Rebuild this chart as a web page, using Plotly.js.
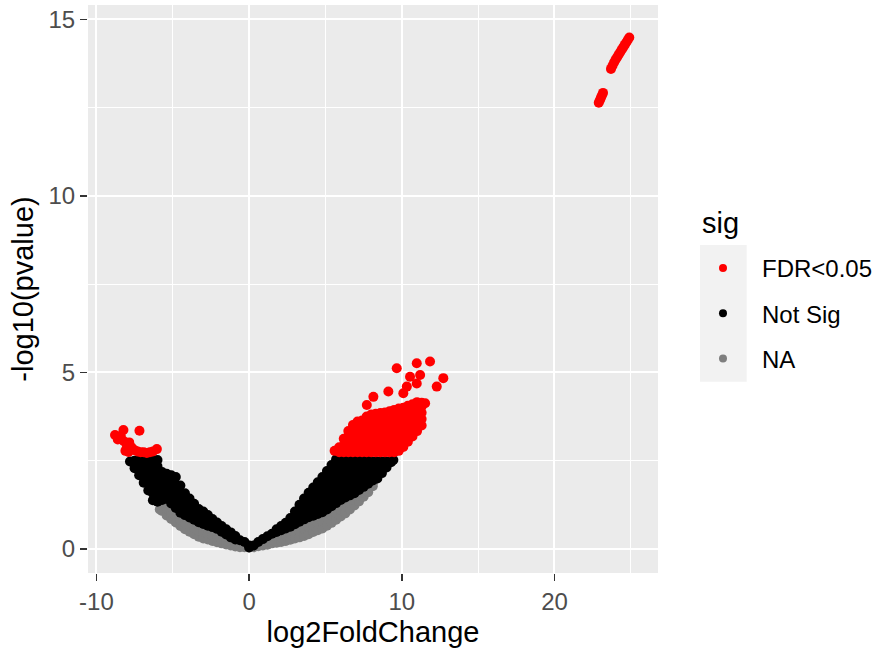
<!DOCTYPE html>
<html><head><meta charset="utf-8">
<script src="https://cdn.plot.ly/plotly-3.0.1.min.js"></script>
<style>body{margin:0;background:#fff}</style>
</head><body><div id="chart" style="width:878px;height:657px"></div>
<script>
// ---- data: [log2FoldChange, [-log10(pvalue) values]] ----
const naCols = [
 [-5.85,[1.12]],[-5.7,[1.08,1.25]],[-5.4,[0.95,1.15,1.3]],[-5.1,[0.85,1.03,1.2]],
 [-4.8,[0.75,0.92,1.08]],[-4.5,[0.65,0.81,0.96]],[-4.2,[0.56,0.72,0.89]],[-3.9,[0.49,0.65,0.82]],
 [-3.6,[0.42,0.59,0.76]],[-3.3,[0.35,0.52,0.69]],[-3.0,[0.3,0.47,0.64]],[-2.7,[0.27,0.43,0.59]],
 [-2.4,[0.23,0.39,0.55]],[-2.1,[0.19,0.34,0.5]],[-1.8,[0.16,0.29,0.42]],[-1.5,[0.13,0.24,0.34]],
 [-1.2,[0.1,0.18,0.26]],[-0.9,[0.07,0.2]],[-0.6,[0.05,0.17]],[-0.3,[0.05,0.13]],[0.0,[0.04]],
 [0.3,[0.05]],[0.6,[0.08]],[0.9,[0.1,0.18]],[1.2,[0.12,0.22]],[1.5,[0.16,0.3]],[1.8,[0.18,0.36]],
 [2.1,[0.2,0.33,0.46]],[2.4,[0.23,0.37,0.51]],[2.7,[0.26,0.41,0.56]],[3.0,[0.3,0.46,0.63]],
 [3.3,[0.33,0.52,0.7]],[3.6,[0.37,0.57,0.77]],[3.9,[0.42,0.62,0.83]],[4.2,[0.48,0.67,0.87]],
 [4.5,[0.53,0.72,0.92]],[4.8,[0.58,0.78,0.97]],[5.1,[0.66,0.86,1.05]],[5.4,[0.74,0.94,1.14]],
 [5.7,[0.83,1.03,1.23]],[6.0,[0.92,1.12,1.32]],[6.3,[1.01,1.2,1.39]],[6.6,[1.12,1.3,1.45]],
 [6.9,[1.23,1.38,1.51]],[7.2,[1.35,1.5,1.6]],[7.5,[1.48,1.6,1.69]],[7.8,[1.61,1.72,1.78]],
 [8.1,[1.78,1.86]]
];
const notSigCols = [
 [-7.8,[2.48]],[-7.5,[2.29,2.5]],[-7.2,[2.09,2.3,2.5]],[-6.9,[1.88,2.08,2.28,2.5]],
 [-6.6,[1.66,1.86,2.06,2.26,2.5]],[-6.3,[1.38,1.58,1.78,1.98,2.18,2.38,2.52]],
 [-6.0,[1.34,1.54,1.74,1.94,2.14,2.34,2.52]],[-5.7,[1.39,1.59,1.79,1.99,2.18]],
 [-5.4,[1.42,1.6,1.78,1.96,2.13]],[-5.1,[1.29,1.49,1.69,1.89,2.09]],
 [-4.8,[1.16,1.38,1.6,1.82,2.04]],[-4.5,[1.03,1.22,1.41,1.6,1.8]],
 [-4.2,[0.96,1.16,1.37,1.58]],[-3.9,[0.89,1.07,1.25,1.43]],[-3.6,[0.83,1.05,1.28]],
 [-3.3,[0.76,0.95,1.13]],[-3.0,[0.71,0.88,1.06]],[-2.7,[0.66,0.81,0.96]],
 [-2.4,[0.62,0.74,0.85]],[-2.1,[0.57,0.66,0.75]],[-1.8,[0.49,0.65]],[-1.5,[0.41,0.56]],
 [-1.2,[0.33,0.47]],[-0.9,[0.27,0.37]],[-0.6,[0.25]],[-0.3,[0.2]],[0.0,[0.04,0.1]],
 [0.3,[0.1]],[0.6,[0.2]],[0.9,[0.28]],[1.2,[0.36]],[1.5,[0.43]],[1.8,[0.48,0.56]],
 [2.1,[0.53,0.65]],[2.4,[0.58,0.74]],[2.7,[0.63,0.76,0.88]],[3.0,[0.7,0.88,1.06]],
 [3.3,[0.77,0.95,1.13,1.25]],[3.6,[0.84,1.0,1.16,1.3,1.43]],[3.9,[0.9,1.08,1.26,1.42,1.59]],
 [4.2,[0.94,1.12,1.3,1.48,1.62,1.74]],[4.5,[0.99,1.17,1.35,1.53,1.71,1.89]],
 [4.8,[1.04,1.22,1.4,1.58,1.76,1.92,2.04]],[5.1,[1.12,1.3,1.48,1.66,1.84,2.02,2.21]],
 [5.4,[1.21,1.39,1.57,1.75,1.93,2.11,2.29,2.38]],[5.7,[1.3,1.48,1.66,1.84,2.02,2.2,2.38,2.54]],
 [6.0,[1.39,1.57,1.75,1.93,2.11,2.29,2.46,2.52]],[6.3,[1.46,1.64,1.82,2.0,2.18,2.36,2.51]],
 [6.6,[1.52,1.7,1.88,2.06,2.24,2.42,2.5]],[6.9,[1.58,1.76,1.94,2.12,2.3,2.5]],
 [7.2,[1.67,1.85,2.03,2.21,2.39,2.5]],[7.5,[1.76,1.94,2.12,2.3,2.49]],
 [7.8,[1.85,2.03,2.21,2.39,2.49]],[8.1,[1.94,2.12,2.3,2.48]],[8.4,[2.0,2.18,2.36,2.48]],
 [8.7,[2.15,2.32,2.48]],[9.0,[2.31,2.48]],[9.3,[2.46]],[9.45,[2.52]]
];
const fdrCols = [
 [5.9,[2.74,2.88]],[6.2,[2.74,2.92,3.12]],[6.5,[2.74,2.9,3.06,3.2,3.34]],
 [6.8,[2.74,2.9,3.06,3.22,3.38,3.51]],[7.1,[2.74,2.92,3.1,3.28,3.46,3.61]],
 [7.4,[2.74,2.92,3.1,3.28,3.46,3.64]],[7.7,[2.74,2.92,3.1,3.28,3.46,3.64,3.75]],
 [8.0,[2.74,2.92,3.1,3.28,3.46,3.64,3.81]],[8.3,[2.74,2.92,3.1,3.28,3.46,3.64,3.83]],
 [8.6,[2.74,2.92,3.1,3.28,3.46,3.64,3.85]],[8.9,[2.74,2.92,3.1,3.28,3.46,3.64,3.87]],
 [9.2,[2.74,2.92,3.1,3.28,3.46,3.64,3.9]],[9.5,[2.74,2.92,3.1,3.28,3.46,3.64,3.82,3.94]],
 [9.8,[2.78,2.96,3.14,3.32,3.5,3.68,3.86,3.98]],[10.1,[2.89,3.07,3.25,3.43,3.61,3.79,4.0]],
 [10.4,[3.04,3.22,3.4,3.58,3.76,3.94,4.06]],[10.7,[3.19,3.37,3.55,3.73,3.91,4.1]],
 [11.0,[3.34,3.52,3.7,3.88,4.06,4.16]],[11.3,[3.5,3.68,3.86,4.04,4.14]]
];
const fdrX = [-8.78,-8.23,-8.6,-8.4,-8.2,-8.0,-7.85,-7.7,-7.5,-7.3,-7.1,-6.9,-6.7,-6.5,-6.3,-6.04,-7.18,-8.1,-7.9,
 9.67,10.98,11.85,12.72,10.54,11.2,10.1,9.12,8.14,7.71,11.53,12.29,10.98,10.33,5.6,
 22.9,22.97,23.04,23.11,23.18,
 23.7,23.8,23.9,24.0,24.1,24.2,24.3,24.4,24.5,24.6,24.7,24.8,24.9];
const fdrY = [3.23,3.37,3.1,3.2,3.05,2.92,3.02,2.88,2.8,2.76,2.74,2.74,2.72,2.74,2.76,2.83,3.35,2.78,2.75,
 5.12,5.26,5.31,4.84,4.88,4.93,4.41,4.46,4.31,4.08,4.13,4.6,4.69,4.6,2.78,
 12.64,12.71,12.78,12.85,12.92,
 13.6,13.69,13.78,13.86,13.93,14.0,14.07,14.14,14.21,14.28,14.35,14.42,14.49];
const sigLabels = ['FDR<0.05','Not Sig','NA'];
const sigColors = ['#ff0000','#000000','#7f7f7f'];
const xTicks = [-10,0,10,20];
const yTicks = [0,5,10,15];

function expand(cols){const x=[],y=[];cols.forEach(c=>c[1].forEach(v=>{x.push(c[0]);y.push(v);}));return {x:x,y:y};}
const na=expand(naCols), ns=expand(notSigCols), fd=expand(fdrCols);
const FONT='Liberation Sans, Arial, sans-serif';
const pt=(x,y,c)=>({type:'scatter',mode:'markers',x:x,y:y,showlegend:false,hoverinfo:'skip',
  marker:{size:10,color:c,line:{width:0}}});
const traces=[
  pt(na.x,na.y,sigColors[2]),
  pt(ns.x,ns.y,sigColors[1]),
  pt(fd.x.concat(fdrX),fd.y.concat(fdrY),sigColors[0])
];
sigLabels.forEach((l,i)=>traces.push({type:'scatter',mode:'markers',x:[null],y:[null],name:l,
  legendgroup:'g'+i,marker:{size:8,color:sigColors[i]},hoverinfo:'skip'}));

const layout={
  width:878,height:657,
  margin:{l:88,r:220,t:5,b:84,autoexpand:false},
  paper_bgcolor:'#ffffff',plot_bgcolor:'#ebebeb',
  font:{family:FONT},
  xaxis:{range:[-10.55,26.78],tickvals:xTicks,ticktext:xTicks.map(String),
    showgrid:true,gridcolor:'#ffffff',gridwidth:2,zeroline:false,showline:false,
    minor:{tickvals:[-5,5,15,25],showgrid:true,gridcolor:'#ffffff',gridwidth:1,ticks:''},
    ticks:'outside',ticklen:7,tickwidth:1.5,tickcolor:'#333333',
    tickfont:{size:24,color:'#4d4d4d',family:FONT},
    title:{text:'log2FoldChange',font:{size:29,color:'#000000',family:FONT},standoff:7},
    automargin:false,fixedrange:true},
  yaxis:{range:[-0.68,15.41],tickvals:yTicks,ticktext:yTicks.map(String),
    showgrid:true,gridcolor:'#ffffff',gridwidth:2,zeroline:false,showline:false,
    minor:{tickvals:[2.5,7.5,12.5],showgrid:true,gridcolor:'#ffffff',gridwidth:1,ticks:''},
    ticks:'outside',ticklen:7,tickwidth:1.5,tickcolor:'#333333',
    tickfont:{size:24,color:'#4d4d4d',family:FONT},
    title:{text:'-log10(pvalue)',font:{size:29,color:'#000000',family:FONT},standoff:6},
    automargin:false,fixedrange:true},
  legend:{x:1.0456,y:0.5757,xanchor:'left',yanchor:'top',bgcolor:'rgba(0,0,0,0)',
    font:{size:24,color:'#000000',family:FONT},itemwidth:68,tracegroupgap:11},
  shapes:[{type:'rect',xref:'paper',yref:'paper',x0:1.0737,x1:1.1556,y0:0.3368,y1:0.5775,
    fillcolor:'#f2f2f2',line:{width:0},layer:'below'}],
  annotations:[{text:'sig',xref:'paper',yref:'paper',x:1.0737,y:0.616,xanchor:'left',yanchor:'middle',
    showarrow:false,font:{size:29,color:'#000000',family:FONT}}]
};
Plotly.newPlot('chart',traces,layout,{displayModeBar:false,staticPlot:true});
</script></body></html>
